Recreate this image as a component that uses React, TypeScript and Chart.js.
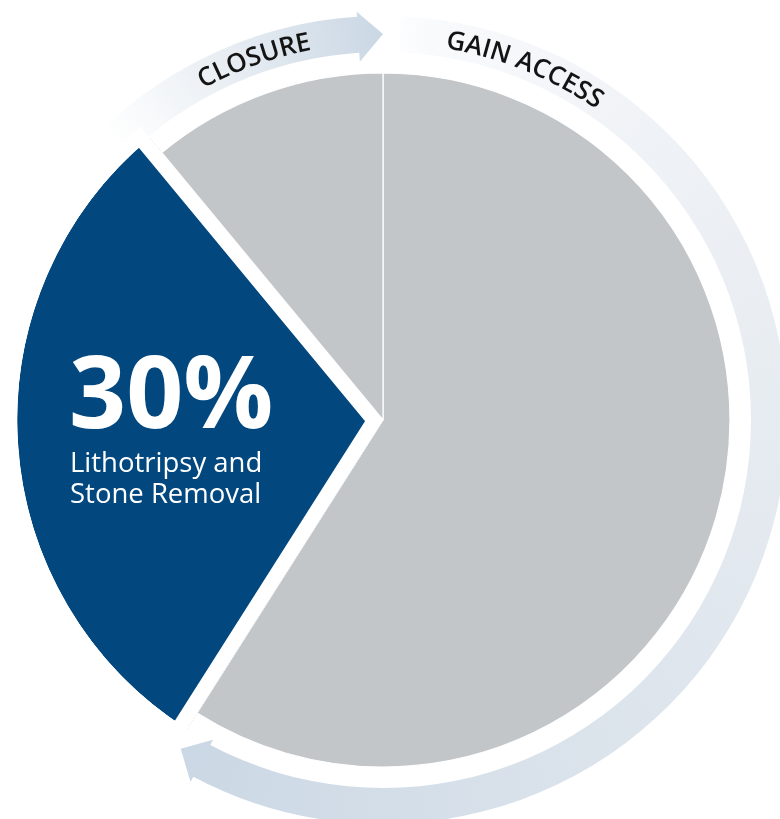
import React, { useEffect, useRef } from "react";
import { Chart, registerables } from "chart.js";

Chart.register(...registerables);

// ---- data ----
const phases = ["Gain Access", "Lithotripsy and Stone Removal", "Closure"];
const shares = [59, 30, 11];
const sliceColors = ["#c3c6c9", "#02487f", "#c3c6c9"];
const highlightIndex = 1;
const highlightLines = ["Lithotripsy and", "Stone Removal"];
const arrowLabels = ["GAIN ACCESS", "CLOSURE"];

const deg = (d: number) => (d * Math.PI) / 180;
const pt = (cx: number, cy: number, r: number, a: number): [number, number] => [
  cx + r * Math.sin(deg(a)),
  cy - r * Math.cos(deg(a)),
];

function bandPath(
  ctx: CanvasRenderingContext2D,
  cx: number,
  cy: number,
  rIn: number,
  rOut: number,
  a0: number,
  a1: number,
  wIn: number,
  wOut: number,
  tip: number
) {
  ctx.beginPath();
  ctx.arc(cx, cy, rOut, deg(a0 - 90), deg(a1 - 90), false);
  let p = pt(cx, cy, wOut, a1);
  ctx.lineTo(p[0], p[1]);
  p = pt(cx, cy, (rIn + rOut) / 2, tip);
  ctx.lineTo(p[0], p[1]);
  p = pt(cx, cy, wIn, a1);
  ctx.lineTo(p[0], p[1]);
  ctx.arc(cx, cy, rIn, deg(a1 - 90), deg(a0 - 90), true);
  ctx.closePath();
}

function arcText(
  ctx: CanvasRenderingContext2D,
  text: string,
  cx: number,
  cy: number,
  r: number,
  midDeg: number
) {
  const total = ctx.measureText(text).width;
  let ang = deg(midDeg) - total / (2 * r);
  ctx.textAlign = "center";
  ctx.textBaseline = "alphabetic";
  for (const ch of text) {
    const w = ctx.measureText(ch).width;
    const a = ang + w / (2 * r);
    const x = cx + r * Math.sin(a);
    const y = cy - r * Math.cos(a);
    ctx.save();
    ctx.translate(x, y);
    ctx.rotate(a);
    ctx.fillText(ch, 0, 0);
    ctx.restore();
    ang += w / r;
  }
}

const BASE_R = 347;
const GAP = 14.6; // white gap around the highlighted slice
const PULL = 19; // highlighted slice reaches this much beyond the others

const cyclePlugin = {
  id: "cycleArrows",
  afterDatasetUpdate(chart: any) {
    const meta = chart.getDatasetMeta(0);
    const arc = meta.data[highlightIndex];
    const base = meta.data[0].outerRadius;
    if (arc) arc.outerRadius = base + PULL + GAP;
  },
  beforeDatasetsDraw(chart: any) {
    const ctx: CanvasRenderingContext2D = chart.ctx;
    const { left, right, top, bottom } = chart.chartArea;
    const cx = (left + right) / 2;
    const cy = (top + bottom) / 2;
    const R = chart.getDatasetMeta(0).data[0].outerRadius;
    const rIn = R + 21;
    const rOut = R + 57;
    ctx.save();
    // gain access arrow
    const g1 = (ctx as any).createConicGradient(deg(-90), cx, cy);
    g1.addColorStop(0, "#ffffff");
    g1.addColorStop(0.02, "#f9fafc");
    g1.addColorStop(0.12, "#eff2f6");
    g1.addColorStop(0.3, "#e3e9ef");
    g1.addColorStop(0.45, "#d8e1ea");
    g1.addColorStop(0.59, "#cad7e4");
    g1.addColorStop(1, "#cad7e4");
    ctx.fillStyle = g1;
    bandPath(ctx, cx, cy, rIn, rOut, 2.5, 208, R + 15, R + 63, 211.6);
    ctx.fill();
    // closure arrow
    const g2 = (ctx as any).createConicGradient(deg(90), cx, cy);
    g2.addColorStop(0, "#ffffff");
    g2.addColorStop((316 - 180) / 360, "#ffffff");
    g2.addColorStop((338 - 180) / 360, "#e6ecf2");
    g2.addColorStop(0.5, "#cad7e4");
    g2.addColorStop(1, "#cad7e4");
    ctx.fillStyle = g2;
    bandPath(ctx, cx, cy, rIn, rOut, 316, 356.3, R + 12, R + 62, 360);
    ctx.fill();
    ctx.restore();
  },
  afterDatasetsDraw(chart: any) {
    const ctx: CanvasRenderingContext2D = chart.ctx;
    const { left, right, top, bottom } = chart.chartArea;
    const cx = (left + right) / 2;
    const cy = (top + bottom) / 2;
    const R = chart.getDatasetMeta(0).data[0].outerRadius;
    ctx.save();
    ctx.fillStyle = "#141414";
    ctx.font = '600 26px "Open Sans"';
    arcText(ctx, arrowLabels[0], cx, cy, R + 30, 22);
    arcText(ctx, arrowLabels[1], cx, cy, R + 30, 340.3);

    // highlight label
    ctx.fillStyle = "#ffffff";
    ctx.textAlign = "left";
    ctx.textBaseline = "alphabetic";
    ctx.font = '700 100px "Open Sans"';
    ctx.fillText(shares[highlightIndex] + "%", cx - 314, cy + 8);
    ctx.font = '500 27.5px "Open Sans"';
    highlightLines.forEach((line, i) => {
      ctx.fillText(line, cx - 313, cy + 52 + i * 31);
    });
    ctx.restore();
  },
};

function sliceFill(c: any) {
  const base = sliceColors[c.dataIndex];
  if (c.dataIndex !== highlightIndex) return base;
  const chart = c.chart;
  const area = chart.chartArea;
  if (!area) return base;
  const cx = (area.left + area.right) / 2;
  const cy = (area.top + area.bottom) / 2;
  const rPath = BASE_R + PULL + GAP;
  const rVis = BASE_R + PULL;
  const g = chart.ctx.createRadialGradient(cx, cy, 0, cx, cy, rPath);
  g.addColorStop(0, base);
  g.addColorStop((rVis - 0.5) / rPath, base);
  g.addColorStop((rVis + 0.5) / rPath, "rgba(255,255,255,0)");
  g.addColorStop(1, "rgba(255,255,255,0)");
  return g;
}

export default function App() {
  const ref = useRef<HTMLCanvasElement | null>(null);
  useEffect(() => {
    if (!ref.current) return;
    const chart = new Chart(ref.current, {
      type: "pie",
      data: {
        labels: phases,
        datasets: [
          {
            data: shares,
            backgroundColor: sliceFill,
            borderColor: ["#ffffff", "rgba(255,255,255,1)", "#ffffff"],
            borderWidth: [1.2, GAP, 1.2],
            borderAlign: ["center", "inner", "center"],
            hoverOffset: 0,
          },
        ],
      },
      options: {
        responsive: false,
        animation: false,
        radius: BASE_R,
        layout: { padding: { left: 0, right: 14, top: 21, bottom: 0 } },
        plugins: {
          legend: { display: false },
          tooltip: { enabled: false },
        },
        events: [],
      } as any,
      plugins: [cyclePlugin],
    });
    return () => chart.destroy();
  }, []);
  return (
    <div style={{ position: "absolute", left: 0, top: 0, width: 780, height: 819, background: "#ffffff" }}>
      <canvas ref={ref} width={780} height={819} />
    </div>
  );
}
